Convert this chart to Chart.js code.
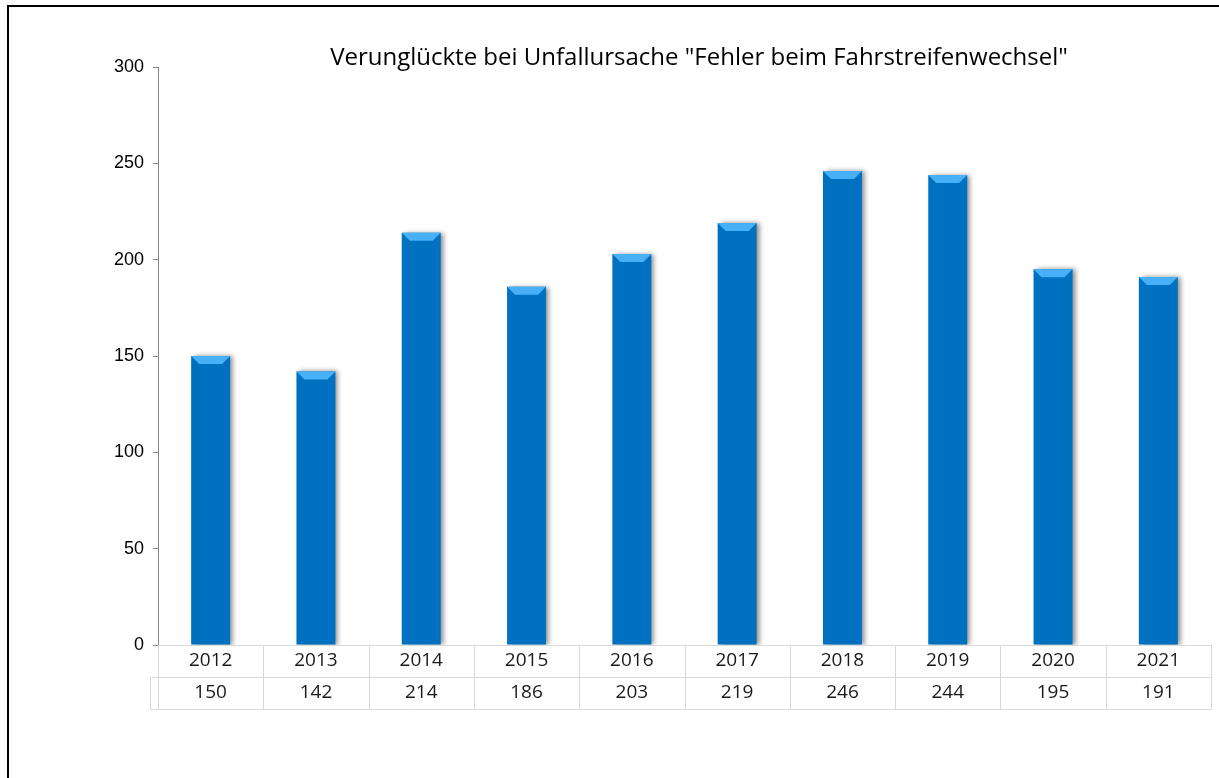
<!DOCTYPE html>
<html>
<head>
<meta charset="utf-8">
<script src="https://cdn.jsdelivr.net/npm/chart.js@4.4.1/dist/chart.umd.min.js"></script>
<style>
  html, body { margin: 0; padding: 0; background: #fff; }
  #wrap { position: relative; width: 1219px; height: 778px; overflow: hidden; }
  #frame { position: absolute; left: 7px; top: 5px; width: 1300px; height: 900px;
           border-top: 2px solid #000; border-left: 2px solid #000; pointer-events: none; }
  canvas { position: absolute; left: 0; top: 0; }
</style>
</head>
<body>
<div id="wrap">
  <canvas id="myChart" width="1219" height="778"></canvas>
  <div id="frame"></div>
</div>
<script>
// chart data
var years = ['2012', '2013', '2014', '2015', '2016', '2017', '2018', '2019', '2020', '2021'];
var injured = [150, 142, 214, 186, 203, 219, 246, 244, 195, 191];
var yTicks = [0, 50, 100, 150, 200, 250, 300];

var titleText = 'Verunglückte bei Unfallursache "Fehler beim Fahrstreifenwechsel"';

// shadow on the right of each bar
var barShadow = {
    id: 'barShadow',
    beforeDatasetsDraw: function (chart) {
        var c = chart.ctx;
        c.save();
        c.shadowColor = 'rgba(0,0,0,0.45)';
        c.shadowBlur = 5;
        c.shadowOffsetX = 3;
        c.shadowOffsetY = 0;
    },
    afterDatasetsDraw: function (chart) {
        chart.ctx.restore();
        // light bevel cap on top of each bar
        var c = chart.ctx;
        chart.getDatasetMeta(0).data.forEach(function (bar) {
            var half = bar.width / 2;
            var l = bar.x - half, r = bar.x + half;
            c.fillStyle = '#47b0f7';
            c.beginPath();
            c.moveTo(l, bar.y);
            c.lineTo(r, bar.y);
            c.lineTo(r - 8, bar.y + 8);
            c.lineTo(l + 8, bar.y + 8);
            c.closePath();
            c.fill();
        });
    }
};

// title + data table below the axis
var tablePlugin = {
    id: 'tablePlugin',
    afterDraw: function (chart) {
        var c = chart.ctx;
        var xs = chart.scales.x;
        var area = chart.chartArea;
        var w = (xs.right - xs.left) / years.length;
        var top = area.bottom, mid = top + 32, bot = top + 64;

        c.save();
        c.strokeStyle = '#d9d9d9';
        c.lineWidth = 1;
        c.beginPath();
        c.moveTo(xs.left - 8, mid + 0.5); c.lineTo(xs.right, mid + 0.5);
        c.moveTo(xs.left - 8, bot + 0.5); c.lineTo(xs.right, bot + 0.5);
        c.moveTo(xs.left - 7.5, mid); c.lineTo(xs.left - 7.5, bot);
        for (var i = 0; i <= years.length; i++) {
            var x = Math.round(xs.left + i * w) + 0.5;
            c.moveTo(x, top); c.lineTo(x, bot);
        }
        c.stroke();

        c.fillStyle = '#1a1a1a';
        c.font = '19px "Open Sans", Lato, sans-serif';
        c.textAlign = 'center';
        c.textBaseline = 'middle';
        years.forEach(function (y, i) {
            var cx = xs.getPixelForValue(i);
            c.fillText(y, cx, top + 16);
            c.fillText(String(injured[i]), cx, mid + 16);
        });

        c.fillStyle = '#000';
        c.font = '24px "Open Sans", Lato, sans-serif';
        c.fillText(titleText, 699, 58);
        c.restore();
    }
};

var ctx = document.getElementById('myChart').getContext('2d');
var myChart = new Chart(ctx, {
    type: 'bar',
    data: {
        labels: years,
        datasets: [{
            label: 'Verunglückte',
            data: injured,
            backgroundColor: '#0070c0',
            borderWidth: 0,
            barPercentage: 0.37,
            categoryPercentage: 1
        }]
    },
    options: {
        responsive: false,
        animation: false,
        layout: { padding: { top: 67, right: 8, left: 0, bottom: 0 } },
        plugins: {
            legend: { display: false },
            tooltip: { enabled: false }
        },
        scales: {
            x: {
                ticks: { display: false },
                grid: { display: false },
                border: { color: '#d9d9d9' },
                afterFit: function (scale) { scale.height = 133; }
            },
            y: {
                min: 0,
                max: 300,
                afterBuildTicks: function (scale) {
                    scale.ticks = yTicks.map(function (v) { return { value: v }; });
                },
                ticks: {
                    color: '#000',
                    padding: 9,
                    font: { family: '"Liberation Sans", Arial, sans-serif', size: 18 }
                },
                grid: { drawOnChartArea: false, drawTicks: true, tickLength: 5, color: '#868686' },
                border: { color: '#868686' },
                afterFit: function (scale) { scale.width = 158; }
            }
        }
    },
    plugins: [barShadow, tablePlugin]
});
</script>
</body>
</html>
